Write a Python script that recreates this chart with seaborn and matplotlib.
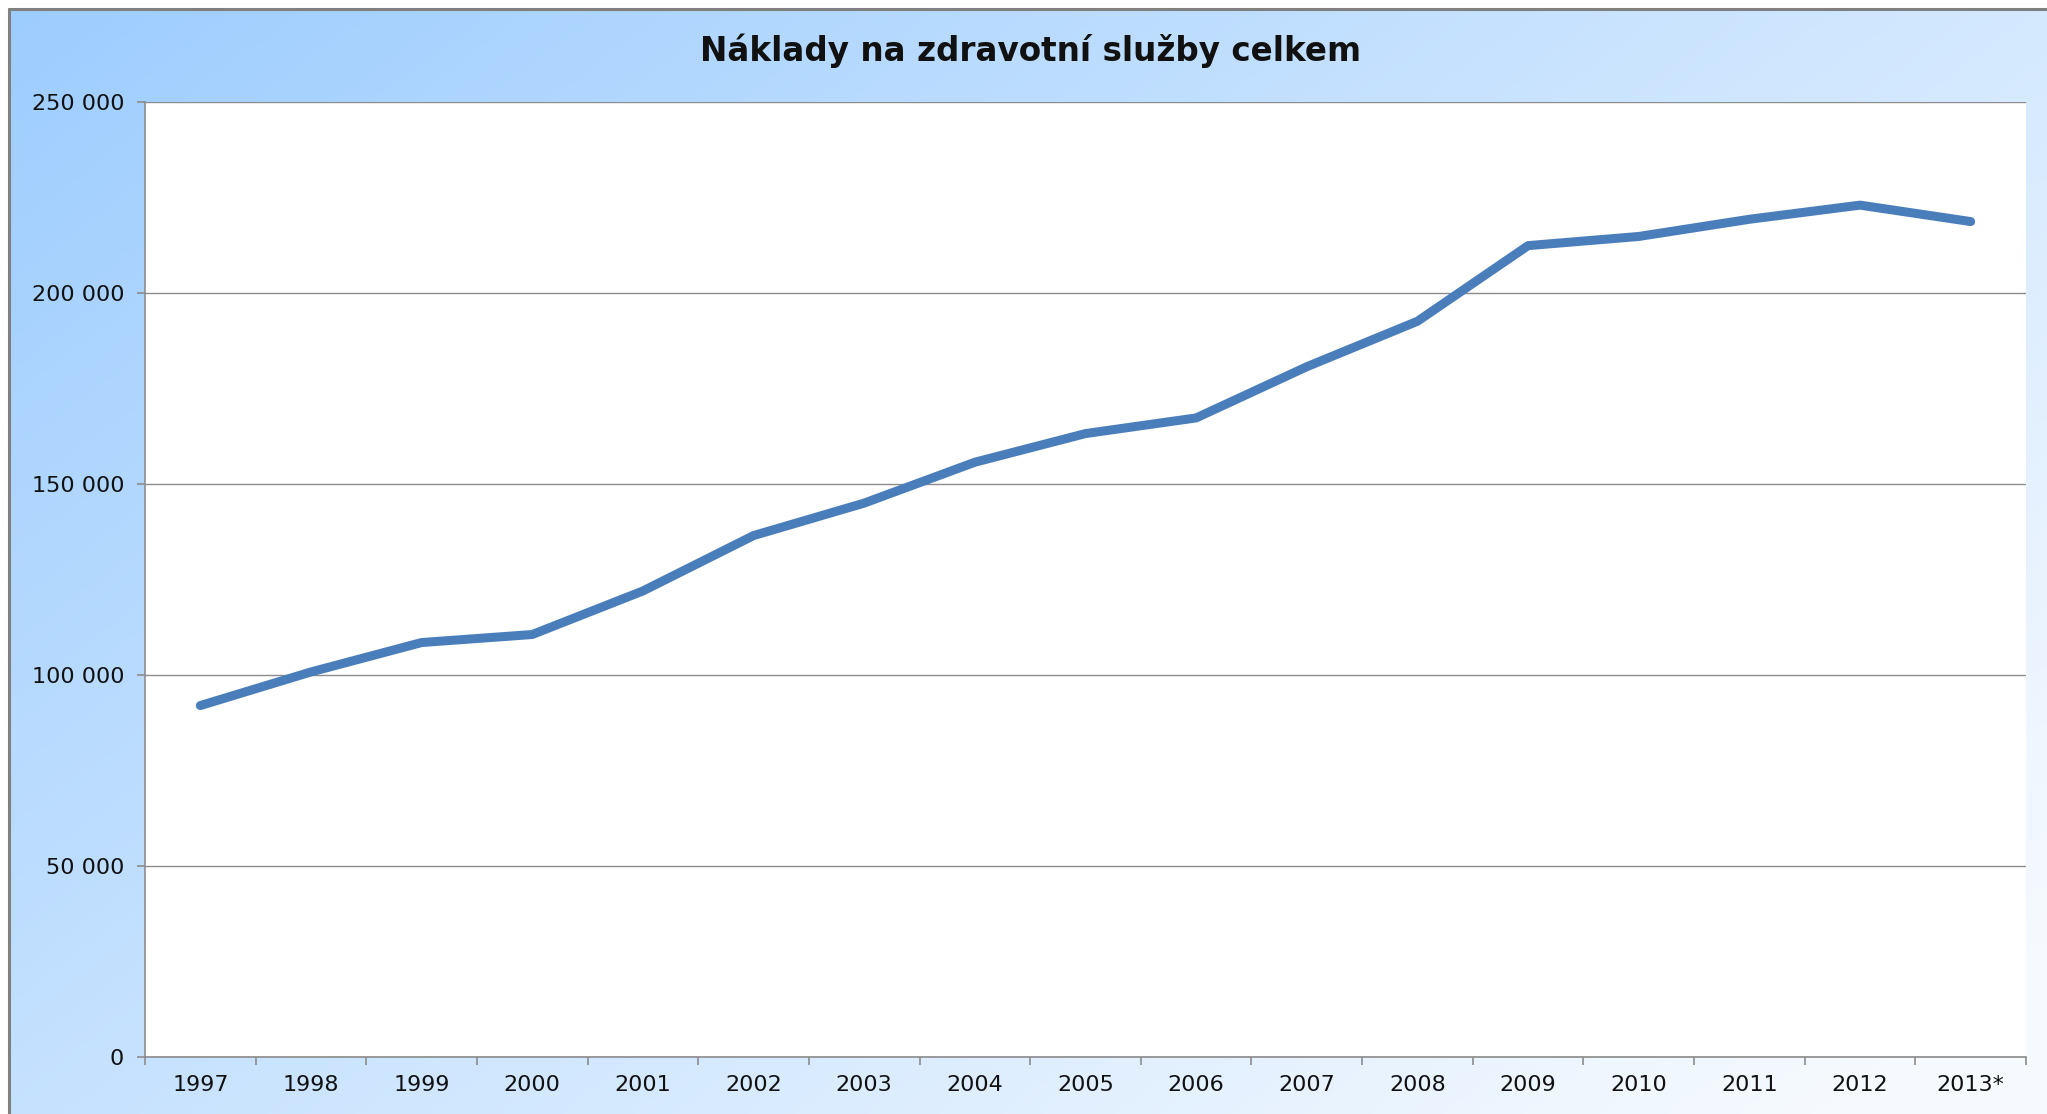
import numpy as np
import pandas as pd
import seaborn as sns
import matplotlib.pyplot as plt
from matplotlib.ticker import FixedLocator, FuncFormatter
from matplotlib.lines import Line2D

# data
years = ["1997", "1998", "1999", "2000", "2001", "2002", "2003", "2004", "2005",
         "2006", "2007", "2008", "2009", "2010", "2011", "2012", "2013*"]
costs = [92000, 100800, 108500, 110600, 122000, 136500, 145000, 155700, 163200,
         167300, 180700, 192600, 212400, 214800, 219300, 223000, 218700]
y_ticks = [0, 50000, 100000, 150000, 200000, 250000]
title = "Náklady na zdravotní služby celkem"

df = pd.DataFrame({"pos": np.arange(len(years)), "year": years, "cost": costs})

sns.set_theme(style="white")
plt.rcParams['font.family'] = ['DejaVu Sans']

W, H = 2047, 1114
fig = plt.figure(figsize=(W / 100, H / 100), dpi=100)
fig.patch.set_facecolor("white")

# gradient background (light blue, diagonal)
bg = fig.add_axes([9 / W, 0, 1 - 9 / W, 1 - 9 / H], zorder=0)
gx, gy = np.meshgrid(np.linspace(0, 1, 400), np.linspace(0, 1, 250))
t = np.clip(0.62 * gx + 0.45 * gy, 0, 1)[..., None]
c0 = np.array([157, 205, 254]) / 255
c1 = np.array([246, 250, 255]) / 255
bg.imshow(c0 + (c1 - c0) * t, aspect="auto", extent=[0, 1, 1, 0])
bg.set_axis_off()

# outer frame (left + top only, rest is cropped off)
fig.add_artist(Line2D([9 / W, 9 / W], [0, 1 - 9 / H], color="#808080", lw=2.2))
fig.add_artist(Line2D([9 / W, 1], [1 - 9 / H, 1 - 9 / H], color="#808080", lw=2.2))

ax = fig.add_axes([145 / W, 1 - 1057 / H, (2026 - 145) / W, (1057 - 102) / H], zorder=1)
ax.set_facecolor("white")

sns.lineplot(data=df, x="pos", y="cost", ax=ax, color="#4A7EBB", linewidth=6.5,
             solid_capstyle="round", solid_joinstyle="round", zorder=3)

ax.set_xlim(-0.5, len(years) - 0.5)
ax.set_ylim(0, 250000)

# y axis
ax.yaxis.set_major_locator(FixedLocator(y_ticks))
ax.yaxis.set_major_formatter(FuncFormatter(lambda v, p: f"{int(v):,}".replace(",", " ")))
ax.grid(axis="y", color="#8C8C8C", linewidth=1.0)
ax.set_axisbelow(True)

# x axis: tick marks between categories, labels centered
ax.xaxis.set_major_locator(FixedLocator(np.arange(-0.5, len(years), 1.0)))
ax.xaxis.set_major_formatter(FuncFormatter(lambda v, p: ""))
ax.xaxis.set_minor_locator(FixedLocator(np.arange(len(years))))
ax.set_xticklabels(years, minor=True)

ax.tick_params(axis="x", which="major", direction="out", length=6, width=1.2,
               color="#8C8C8C", bottom=True)
ax.tick_params(axis="x", which="minor", length=0, pad=13, labelsize=16,
               labelcolor="#111111")
ax.tick_params(axis="y", which="major", direction="out", length=6, width=1.2,
               color="#8C8C8C", left=True, pad=9, labelsize=16, labelcolor="#111111")

for side in ["top", "right"]:
    ax.spines[side].set_visible(False)
for side in ["left", "bottom"]:
    ax.spines[side].set_color("#8C8C8C")
    ax.spines[side].set_linewidth(1.2)

ax.set_xlabel("")
ax.set_ylabel("")

fig.text(1031 / W, 1 - 51 / H, title, ha="center", va="center",
         fontsize=23.5, fontweight="bold", color="#111111")

fig.savefig("out.png", dpi=100)
